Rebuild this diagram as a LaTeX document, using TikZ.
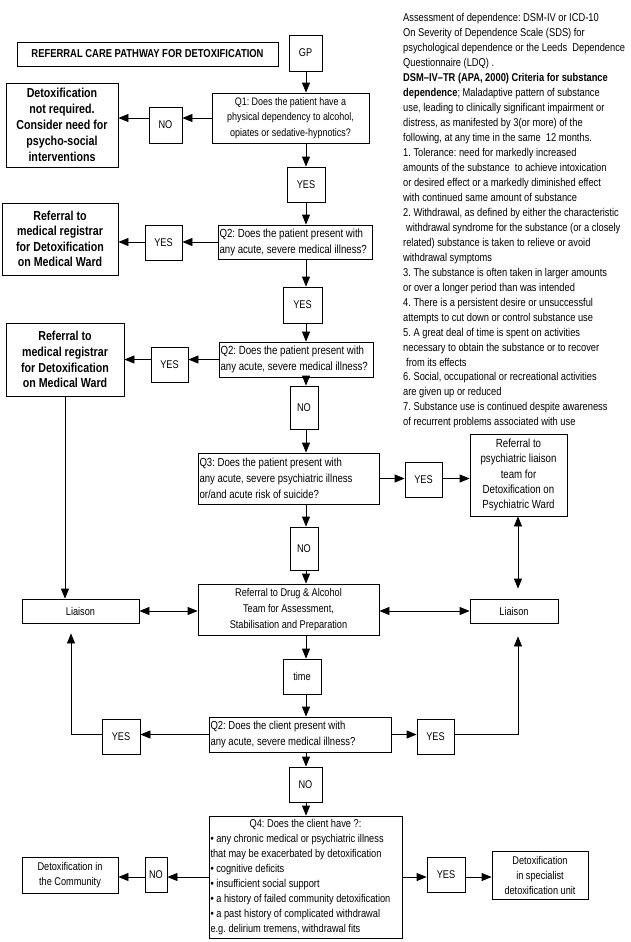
\documentclass[tikz,border=0pt]{standalone}
\usepackage{fontspec}
\setmainfont{Liberation Sans}[FakeStretch=0.82]
\usetikzlibrary{arrows.meta}
\newcommand\myfs[2]{\fontsize{#1}{#2}\selectfont}
\begin{document}
\frenchspacing
\begin{tikzpicture}[x=1pt,y=-1pt,
  bx/.style={draw, line width=0.8pt, inner sep=0pt, align=center, font=\myfs{11.2}{15}},
  qbx/.style={bx, align=flush left, inner xsep=1.5pt},
  bigb/.style={bx, font=\myfs{13}{15.8}\bfseries},
  arr/.style={-{Triangle[length=10pt,width=8pt]}, line width=0.8pt},
  dbl/.style={{Triangle[length=10pt,width=8pt]}-{Triangle[length=10pt,width=8pt]}, line width=0.8pt}]
\useasboundingbox (0,0) rectangle (631,942);

% side text
\node[anchor=north west, inner sep=0pt, align=left, font=\myfs{11.35}{14.96}] (side) at (403,13.5) {%
Assessment of dependence: DSM-IV or ICD-10\\
On Severity of Dependence Scale (SDS) for\\
psychological dependence or the Leeds~ Dependence\\
Questionnaire (LDQ) .\\
{\bfseries DSM–IV–TR (APA, 2000) Criteria for substance}\\
{\bfseries dependence}; Maladaptive pattern of substance\\
use, leading to clinically significant impairment or\\
distress, as manifested by 3(or more) of the\\
following, at any time in the same~ 12 months.\\
1. Tolerance: need for markedly increased\\
amounts of the substance~ to achieve intoxication\\
or desired effect or a markedly diminished effect\\
with continued same amount of substance\\
2. Withdrawal, as defined by either the characteristic\\
\hspace*{3pt}withdrawal syndrome for the substance (or a closely\\
related) substance is taken to relieve or avoid\\
withdrawal symptoms\\
3. The substance is often taken in larger amounts\\
or over a longer period than was intended\\
4. There is a persistent desire or unsuccessful\\
attempts to cut down or control substance use\\
5. A great deal of time is spent on activities\\
necessary to obtain the substance or to recover\\
\hspace*{3pt}from its effects\\
6. Social, occupational or recreational activities\\
are given up or reduced\\
7. Substance use is continued despite awareness\\
of recurrent problems associated with use};

% boxes
\node[bx, font=\myfs{11.5}{14}\bfseries, minimum width=261pt, minimum height=24pt] (title) at (147.5,54) {REFERRAL CARE PATHWAY FOR DETOXIFICATION};
\node[bx, minimum width=33pt, minimum height=36pt] (GP) at (305.5,53) {GP};
\node[bx, font=\myfs{10.9}{15.8}, minimum width=157pt, minimum height=50pt] (Q1) at (290.5,118) {Q1: Does the patient have a\\physical dependency to alcohol,\\opiates or sedative-hypnotics?};
\node[bx, minimum width=33pt, minimum height=36pt] (NOq1) at (165.5,125) {NO};
\node[bigb, font=\myfs{13}{16}\bfseries, minimum width=112pt, minimum height=84pt] (notreq) at (62,125) {Detoxification\\not required.\\Consider need for\\psycho-social\\interventions};
\node[bx, minimum width=38pt, minimum height=35pt] (YES1) at (306,184.5) {YES};

\node[qbx, font=\myfs{11.8}{16}, text width=151pt, minimum height=34pt] (Q2a) at (295,242) {Q2: Does the patient present with\\any acute, severe medical illness?};
\node[bx, minimum width=37pt, minimum height=35pt] (YESa) at (163.5,242.5) {YES};
\node[bigb, font=\myfs{13}{15.5}\bfseries, minimum width=116pt, minimum height=72pt] (refA) at (60,239) {Referral to\\medical registrar\\for Detoxification\\on Medical Ward};
\node[bx, minimum width=39pt, minimum height=36pt] (YES2) at (302.5,305) {YES};

\node[qbx, font=\myfs{11.8}{16}, text width=151pt, minimum height=35pt] (Q2b) at (296,359.5) {Q2: Does the patient present with\\any acute, severe medical illness?};
\node[bx, minimum width=37pt, minimum height=35pt] (YESb) at (169.5,364.5) {YES};
\node[bigb, font=\myfs{13}{15.7}\bfseries, minimum width=118pt, minimum height=73pt] (refB) at (65,359.5) {Referral to\\medical registrar\\for Detoxification\\on Medical Ward};
\node[bx, minimum width=28pt, minimum height=43pt] (NOa) at (304,407.5) {NO};

\node[qbx, font=\myfs{11.7}{16}, text width=178pt, minimum height=51pt] (Q3) at (288.5,478.5) {Q3: Does the patient present with\\any acute, severe psychiatric illness\\or/and acute risk of suicide?};
\node[bx, minimum width=37pt, minimum height=35pt] (YES3) at (423.5,479.5) {YES};
\node[bx, font=\myfs{11.8}{15.2}, minimum width=97pt, minimum height=82pt] (psych) at (518.5,475) {Referral to\\psychiatric liaison\\team for\\Detoxification on\\Psychiatric Ward};
\node[bx, minimum width=28pt, minimum height=43pt] (NOb) at (304,548.5) {NO};

\node[bx, font=\myfs{11.2}{16}, minimum width=181pt, minimum height=51pt] (DA) at (288.5,609.5) {Referral to Drug \& Alcohol\\Team for Assessment,\\Stabilisation and Preparation};
\node[bx, minimum width=117pt, minimum height=24pt] (LiaL) at (80.5,611) {Liaison};
\node[bx, minimum width=88pt, minimum height=24pt] (LiaR) at (514,611) {Liaison};
\node[bx, minimum width=38pt, minimum height=35pt] (time) at (302,676.5) {time};

\node[qbx, font=\myfs{11.6}{16.5}, text width=179pt, minimum height=35pt] (Q2c) at (300,734.5) {Q2: Does the client present with\\any acute, severe medical illness?};
\node[bx, minimum width=38pt, minimum height=35pt] (YESL) at (121,736.5) {YES};
\node[bx, minimum width=37pt, minimum height=35pt] (YESR) at (435.5,736.5) {YES};
\node[bx, minimum width=33pt, minimum height=35pt] (NOc) at (305.5,784.5) {NO};

\node[qbx, font=\myfs{11.3}{15}, text width=190pt, minimum height=122pt] (Q4) at (305.5,877) {\makebox[\linewidth]{Q4: Does the client have ?:}\\
• any chronic medical or psychiatric illness\\
that may be exacerbated by detoxification\\
• cognitive deficits\\
• insufficient social support\\
• a history of failed community detoxification\\
• a past history of complicated withdrawal\\
e.g. delirium tremens, withdrawal fits};
\node[bx, minimum width=22pt, minimum height=35pt] (NO4) at (156,874.5) {NO};
\node[bx, font=\myfs{11.2}{14.7}, minimum width=96pt, minimum height=36pt] (comm) at (70,875) {Detoxification in\\the Community};
\node[bx, minimum width=38pt, minimum height=35pt] (YES4) at (446,874.5) {YES};
\node[bx, minimum width=96pt, minimum height=48pt] (spec) at (540,875) {Detoxification\\in specialist\\detoxification unit};

% helper coordinates
\coordinate (vx) at (306,0);
\coordinate (cl) at (71,0);
\coordinate (cr) at (518,0);

% main vertical flow
\draw[arr] (GP.south -| vx) -- (Q1.north -| vx);
\draw[arr] (Q1.south -| vx) -- (YES1.north -| vx);
\draw[arr] (YES1.south -| vx) -- (Q2a.north -| vx);
\draw[arr] (Q2a.south -| vx) -- (YES2.north -| vx);
\draw[arr] (YES2.south -| vx) -- (Q2b.north -| vx);
\draw[arr] (Q2b.south -| vx) -- (NOa.north -| vx);
\draw[arr] (NOa.south -| vx) -- (Q3.north -| vx);
\draw[arr] (Q3.south -| vx) -- (NOb.north -| vx);
\draw[arr] (NOb.south -| vx) -- (DA.north -| vx);
\draw[arr] (DA.south -| vx) -- (time.north -| vx);
\draw[arr] (time.south -| vx) -- (Q2c.north -| vx);
\draw[arr] (Q2c.south -| vx) -- (NOc.north -| vx);
\draw[arr] (NOc.south -| vx) -- (Q4.north -| vx);

% side branches
\draw[arr] (Q1.west) -- (Q1.west -| NOq1.east);
\draw[arr] (NOq1.west |- Q1.west) -- (Q1.west -| notreq.east);
\draw[arr] (Q2a.west) -- (Q2a.west -| YESa.east);
\draw[arr] (YESa.west |- Q2a.west) -- (Q2a.west -| refA.east);
\draw[arr] (Q2b.west) -- (Q2b.west -| YESb.east);
\draw[arr] (YESb.west |- Q2b.west) -- (Q2b.west -| refB.east);
\draw[arr] (refB.south) -- (refB.south |- LiaL.north);
\draw[arr] (Q3.east) -- (Q3.east -| YES3.west);
\draw[arr] (YES3.east |- Q3.east) -- (Q3.east -| psych.west);
\draw[dbl, shorten >=10pt] (psych.south -| cr) -- (LiaR.north -| cr);
\draw[dbl] (LiaL.east) -- (LiaL.east -| DA.west);
\draw[dbl] (DA.east |- LiaR.west) -- (LiaR.west);
\draw[arr] (Q2c.west) -- (Q2c.west -| YESL.east);
\draw[arr, shorten >=10pt] (YESL.west |- Q2c.west) -| (LiaL.south -| cl);
\draw[arr] (Q2c.east) -- (Q2c.east -| YESR.west);
\draw[arr, shorten >=13pt] (YESR.east |- Q2c.east) -| (LiaR.south -| cr);
\draw[arr] (Q4.west) -- (Q4.west -| NO4.east);
\draw[arr] (NO4.west |- Q4.west) -- (Q4.west -| comm.east);
\draw[arr] (Q4.east) -- (Q4.east -| YES4.west);
\draw[arr] (YES4.east |- Q4.east) -- (Q4.east -| spec.west);
\end{tikzpicture}
\end{document}
